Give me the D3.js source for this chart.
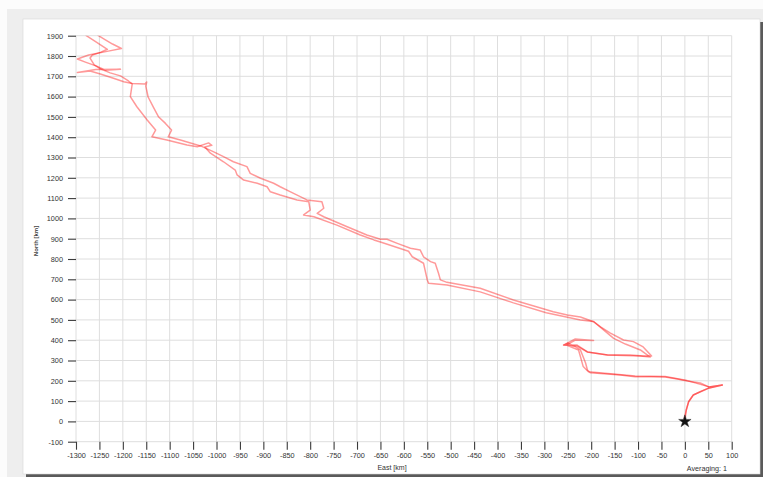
<!DOCTYPE html>
<html>
<head>
<meta charset="utf-8">
<script src="https://cdn.jsdelivr.net/npm/d3@7"></script>
<style>
  html, body { margin: 0; padding: 0; background: #fcfcfc; }
  svg { display: block; font-family: "Liberation Sans", Arial, sans-serif; }
</style>
</head>
<body>
<svg id="chart" width="763" height="477"></svg>
<script>
// ---- data ----
const xTicks = [-1300,-1250,-1200,-1150,-1100,-1050,-1000,-950,-900,-850,-800,-750,-700,-650,-600,-550,-500,-450,-400,-350,-300,-250,-200,-150,-100,-50,0,50,100];
const yTicks = [-100,0,100,200,300,400,500,600,700,800,900,1000,1100,1200,1300,1400,1500,1600,1700,1800,1900];

// outbound track (East km, North km)
const outEast  = [0,-1,3,8,18,33,52,80,52,33,5,-16,-42,-67,-106,-138,-165,-202,-208,-212,-217,-223,-234,-249,-259,-230,-208,-165,-116,-89,-71,-89,-110,-131,-159,-180,-195,-223,-251,-281,-308,-366,-437,-508,-522,-526,-533,-543,-558,-565,-586,-614,-636,-650,-679,-721,-771,-785,-771,-775,-807,-842,-864,-878,-906,-928,-935,-964,-985,-1007,-1034,-1077,-1103,-1096,-1109,-1124,-1134,-1146,-1151,-1149,-1153,-1180,-1198,-1220,-1248,-1270,-1297,-1258,-1205,-1237,-1256,-1280,-1297,-1273,-1231,-1203,-1222,-1239,-1252,-1262];
const outNorth = [0,17,56,97,130,146,165,179,169,189,199,209,219,220,220,229,233,240,253,288,317,352,368,386,376,376,342,327,327,322,322,367,393,401,435,466,491,514,524,540,559,598,656,685,697,730,779,787,811,844,853,877,897,897,918,959,1008,1025,1050,1082,1091,1131,1156,1173,1198,1222,1255,1279,1304,1329,1357,1386,1402,1435,1468,1501,1544,1598,1652,1672,1662,1665,1673,1690,1711,1726,1719,1733,1735,1730,1750,1770,1785,1805,1824,1837,1859,1882,1900,1930];

// return track (East km, North km)
const retEast  = [-1285,-1278,-1259,-1233,-1248,-1265,-1270,-1261,-1248,-1227,-1205,-1188,-1180,-1184,-1170,-1148,-1130,-1138,-1106,-1063,-1041,-1017,-1010,-1025,-1013,-985,-960,-956,-942,-913,-892,-885,-864,-828,-803,-800,-814,-792,-743,-693,-664,-650,-590,-582,-558,-550,-547,-508,-437,-366,-296,-223,-195,-173,-152,-127,-95,-74,-95,-165,-208,-230,-259,-234,-195,-234,-253,-227,-217,-206,-165,-106,-42,5,52,80,52,33,18,8,3,0];
const retNorth = [1930,1900,1872,1833,1818,1805,1790,1756,1737,1717,1702,1677,1662,1600,1550,1485,1435,1402,1386,1362,1353,1372,1360,1352,1321,1279,1238,1214,1189,1173,1156,1131,1115,1091,1082,1041,1017,1008,967,918,894,884,838,811,779,697,680,672,638,584,535,500,492,450,409,381,352,317,322,327,342,371,376,406,399,401,376,352,270,245,236,224,221,201,170,179,165,146,130,97,56,0];

const startPoint = { east: 0, north: 0 };

// ---- drawing ----
const svg = d3.select("#chart");
const W = 763, H = 477;

// frame
svg.append("rect").attr("x", 7).attr("y", 9).attr("width", W - 7).attr("height", H - 9).attr("fill", "#eeeeee");
svg.append("rect").attr("x", 26).attr("y", 22).attr("width", 737).attr("height", 455).attr("fill", "#5a5a5a");
svg.append("rect").attr("x", 23).attr("y", 19).attr("width", 737).attr("height", 455)
   .attr("fill", "#ffffff").attr("stroke", "#d8d8d8").attr("stroke-width", 0.6);

const L = 76, R = 731.7, T = 35.7, B = 441.7;
const x = d3.scaleLinear().domain([-1300, 100]).range([L, R]);
const y = d3.scaleLinear().domain([-100, 1900]).range([B, T]);

// grid
svg.append("g").selectAll("line").data(xTicks).join("line")
  .attr("x1", d => x(d)).attr("x2", d => x(d)).attr("y1", T).attr("y2", B)
  .attr("stroke", "#dedede").attr("stroke-width", 1);
svg.append("g").selectAll("line").data(yTicks).join("line")
  .attr("y1", d => y(d)).attr("y2", d => y(d)).attr("x1", L).attr("x2", R)
  .attr("stroke", "#dedede").attr("stroke-width", 1);

// axes
const xAxis = d3.axisBottom(x).tickValues(xTicks).tickSize(8).tickPadding(3).tickFormat(d3.format("d"));
const yAxis = d3.axisLeft(y).tickValues(yTicks).tickSize(8).tickPadding(5).tickFormat(d3.format("d"));
const gx = svg.append("g").attr("transform", `translate(0,${B})`).call(xAxis);
const gy = svg.append("g").attr("transform", `translate(${L},0)`).call(yAxis);
[gx, gy].forEach(g => {
  g.select(".domain").remove();
  g.selectAll(".tick line").attr("stroke", "#3a3a3a").attr("stroke-width", 1.1);
  g.selectAll(".tick text").attr("fill", "#333").attr("font-size", "7.3px")
   .attr("font-family", "'Liberation Sans', Arial, sans-serif");
});
gx.selectAll(".tick text").text(d => String(d));
gy.selectAll(".tick text").text(d => String(d));

// axis titles
svg.append("text").attr("x", 392).attr("y", 469.5).attr("text-anchor", "middle")
  .attr("font-size", "7px").attr("fill", "#333").text("East [km]");
svg.append("text").attr("transform", "translate(37.5,241) rotate(-90)").attr("text-anchor", "middle")
  .attr("font-size", "6px").attr("font-weight", "bold").attr("fill", "#444").text("North [km]");
svg.append("text").attr("x", 727).attr("y", 470.5).attr("text-anchor", "end")
  .attr("font-size", "7.2px").attr("fill", "#333").text("Averaging: 1");

// clip
svg.append("clipPath").attr("id", "plotclip").append("rect")
  .attr("x", L).attr("y", T).attr("width", R - L).attr("height", B - T);

const line = d3.line().x(d => x(d[0])).y(d => y(d[1]));
const outTrack = outEast.map((e, i) => [e, outNorth[i]]);
const retTrack = retEast.map((e, i) => [e, retNorth[i]]);

const tg = svg.append("g").attr("clip-path", "url(#plotclip)");
[outTrack, retTrack].forEach(tr => {
  tg.append("path").datum(tr).attr("d", line)
    .attr("fill", "none").attr("stroke", "#ff0000").attr("stroke-opacity", 0.4)
    .attr("stroke-width", 1.5).attr("stroke-linejoin", "round").attr("stroke-linecap", "round");
});

// start star
svg.append("path")
  .attr("d", d3.symbol().type(d3.symbolStar).size(48)())
  .attr("transform", `translate(${x(startPoint.east)},${y(startPoint.north)})`)
  .attr("fill", "#111").attr("stroke", "#333").attr("stroke-width", 0.5);
</script>
</body>
</html>
